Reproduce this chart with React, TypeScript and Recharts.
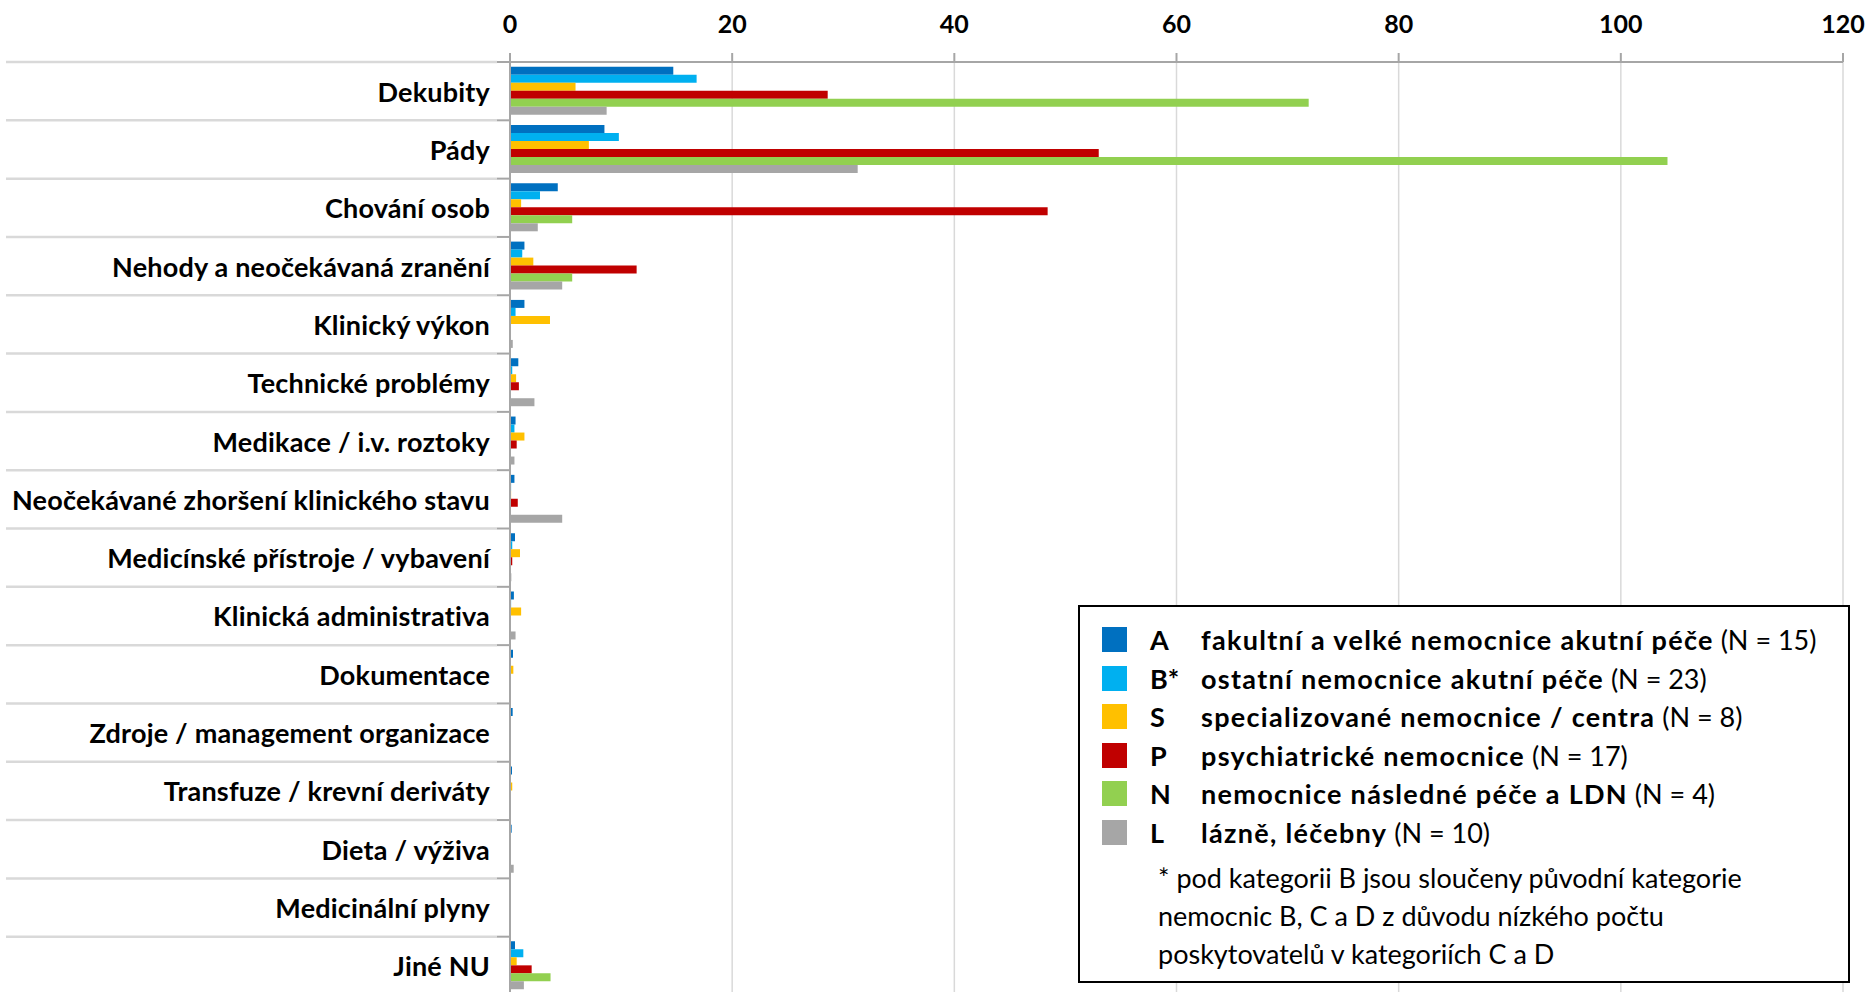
import { BarChart, Bar, XAxis, YAxis, CartesianGrid, Legend } from "recharts";

const categories = [
  "Dekubity",
  "Pády",
  "Chování osob",
  "Nehody a neočekávaná zranění",
  "Klinický výkon",
  "Technické problémy",
  "Medikace / i.v. roztoky",
  "Neočekávané zhoršení klinického stavu",
  "Medicínské přístroje / vybavení",
  "Klinická administrativa",
  "Dokumentace",
  "Zdroje / management organizace",
  "Transfuze / krevní deriváty",
  "Dieta / výživa",
  "Medicinální plyny",
  "Jiné NU",
];

const seriesA = [14.7, 8.5, 4.3, 1.3, 1.3, 0.75, 0.5, 0.4, 0.45, 0.35, 0.27, 0.24, 0.18, 0.15, 0, 0.45];
const seriesB = [16.8, 9.8, 2.7, 1.1, 0.5, 0.2, 0.4, 0.1, 0.2, 0.1, 0.08, 0.08, 0, 0.05, 0.08, 1.2];
const seriesS = [5.9, 7.1, 1.0, 2.1, 3.6, 0.55, 1.3, 0.1, 0.9, 1.0, 0.3, 0, 0.2, 0.05, 0, 0.6];
const seriesP = [28.6, 53.0, 48.4, 11.4, 0, 0.8, 0.6, 0.7, 0.2, 0, 0, 0, 0, 0, 0, 1.95];
const seriesN = [71.9, 104.2, 5.6, 5.6, 0, 0, 0, 0, 0, 0, 0, 0, 0, 0, 0, 3.65];
const seriesL = [8.7, 31.3, 2.5, 4.7, 0.25, 2.2, 0.4, 4.7, 0.12, 0.5, 0, 0, 0, 0.33, 0, 1.25];

const xTicks = [0, 20, 40, 60, 80, 100, 120];

// legend entries: key, letter, bold name, count
const legendKeys = ["A", "B", "S", "P", "N", "L"];
const legendLetters = ["A", "B*", "S", "P", "N", "L"];
const legendNames = [
  "fakultní a velké nemocnice akutní péče",
  "ostatní nemocnice akutní péče",
  "specializované nemocnice / centra",
  "psychiatrické nemocnice",
  "nemocnice následné péče a LDN",
  "lázně, léčebny",
];
const legendCounts = ["(N = 15)", "(N = 23)", "(N = 8)", "(N = 17)", "(N = 4)", "(N = 10)"];
const footnote = [
  "* pod kategorii B jsou sloučeny původní kategorie",
  "nemocnic B, C a D z důvodu nízkého počtu",
  "poskytovatelů v kategoriích C a D",
];

const colors: Record<string, string> = {
  A: "#0070C0",
  B: "#00B0F0",
  S: "#FFC000",
  P: "#C00000",
  N: "#92D050",
  L: "#A6A6A6",
};

const data = categories.map((name, i) => ({
  name,
  A: seriesA[i],
  B: seriesB[i],
  S: seriesS[i],
  P: seriesP[i],
  N: seriesN[i],
  L: seriesL[i],
}));

const CHART_W = 1870;
const CHART_H = 995;
const X_AXIS_H = 62;
const Y_AXIS_W = 510;
const BAND = (CHART_H - X_AXIS_H) / categories.length;

function CategoryTick(props: any) {
  const { y, payload, index } = props;
  const top = y - BAND / 2;
  const bottom = y + BAND / 2;
  const isLast = index === categories.length - 1;
  return (
    <g>
      <line x1={6} x2={497} y1={top} y2={top} stroke="#D9D9D9" strokeWidth={2.5} />
      <line x1={497} x2={Y_AXIS_W} y1={top} y2={top} stroke="#A6A6A6" strokeWidth={2} />
      {isLast && (
        <>
          <line x1={6} x2={497} y1={bottom} y2={bottom} stroke="#D9D9D9" strokeWidth={2.5} />
          <line x1={497} x2={Y_AXIS_W} y1={bottom} y2={bottom} stroke="#A6A6A6" strokeWidth={2} />
        </>
      )}
      <text
        x={Y_AXIS_W - 20}
        y={y}
        textAnchor="end"
        dominantBaseline="central"
        fontSize={27}
        fontWeight={700}
        letterSpacing={0.2}
        fill="#000"
      >
        {payload.value}
      </text>
    </g>
  );
}

function LegendBox() {
  return (
    <div
      style={{
        width: 772,
        height: 378,
        boxSizing: "border-box",
        border: "2px solid #000",
        background: "#fff",
        paddingTop: 13.5,
        fontSize: 27,
        color: "#000",
        lineHeight: 1,
      }}
    >
      {legendKeys.map((k, i) => (
        <div key={k} style={{ display: "flex", alignItems: "center", height: 38.5 }}>
          <div style={{ width: 25, height: 25, background: colors[k], marginLeft: 22 }} />
          <div style={{ width: 51, marginLeft: 23, fontWeight: 700 }}>{legendLetters[i]}</div>
          <div style={{ whiteSpace: "nowrap" }}>
            <span style={{ fontWeight: 700, letterSpacing: 1.3 }}>{legendNames[i]}</span> {legendCounts[i]}
          </div>
        </div>
      ))}
      <div style={{ marginTop: 6.5, paddingLeft: 78 }}>
        {footnote.map((line) => (
          <div key={line} style={{ height: 38, display: "flex", alignItems: "center", whiteSpace: "nowrap" }}>
            {line}
          </div>
        ))}
      </div>
    </div>
  );
}

export default function App() {
  return (
    <div
      style={{
        position: "absolute",
        left: 0,
        top: 0,
        width: CHART_W,
        height: 992,
        overflow: "hidden",
        background: "#fff",
        fontFamily: "Lato, 'Open Sans', sans-serif",
      }}
    >
      <BarChart
        width={CHART_W}
        height={CHART_H}
        data={data}
        layout="vertical"
        margin={{ top: 0, right: 27, bottom: 0, left: 0 }}
        barCategoryGap="8%"
        barGap={0}
      >
        <CartesianGrid horizontal={false} stroke="#D9D9D9" strokeWidth={1.5} />
        <XAxis
          type="number"
          orientation="top"
          domain={[0, 120]}
          ticks={xTicks}
          height={X_AXIS_H}
          axisLine={{ stroke: "#A6A6A6", strokeWidth: 2 }}
          tickLine={{ stroke: "#A6A6A6", strokeWidth: 2 }}
          tickSize={9}
          tickMargin={20}
          tick={{ fontSize: 25, fontWeight: 700, fill: "#000" }}
        />
        <YAxis
          type="category"
          dataKey="name"
          width={Y_AXIS_W}
          axisLine={{ stroke: "#A6A6A6", strokeWidth: 2 }}
          tickLine={false}
          tick={<CategoryTick />}
          interval={0}
        />
        {legendKeys.map((k) => (
          <Bar key={k} dataKey={k} fill={colors[k]} isAnimationActive={false} />
        ))}
        <Legend
          layout="horizontal"
          verticalAlign="middle"
          align="center"
          content={<LegendBox />}
          wrapperStyle={{ left: 1078, top: 605, width: 772, height: 378 }}
        />
      </BarChart>
    </div>
  );
}
